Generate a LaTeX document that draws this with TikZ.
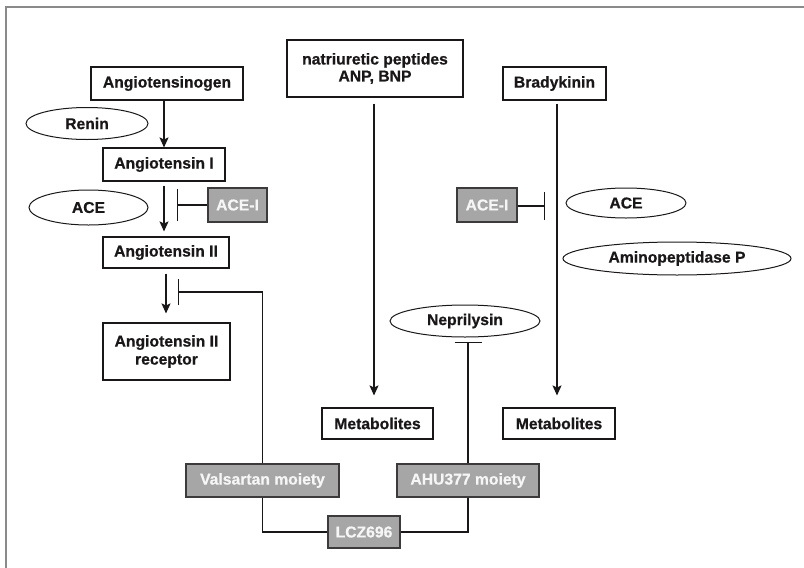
\documentclass[tikz,border=0pt]{standalone}
\usepackage{fontspec}
\setmainfont{Liberation Sans}[BoldFeatures={FakeBold=0.7}]
\usepackage{xcolor}
\usetikzlibrary{shapes.geometric,arrows.meta,positioning}
\definecolor{inkdark}{HTML}{1A1718}
\definecolor{drugfill}{HTML}{A6A6A6}
\definecolor{framegray}{HTML}{8A8A8A}

\begin{document}
\begin{tikzpicture}[
    x=1pt, y=-1pt,
    every node/.style={font=\fontsize{15.7}{17}\selectfont\bfseries, text=inkdark, inner sep=0pt},
    molbox/.style={draw=inkdark, line width=1.1pt, fill=white, align=center, minimum height=33pt},
    enzyme/.style={draw=inkdark, line width=1pt, ellipse, minimum height=32pt},
    drugbox/.style={draw=inkdark!85, line width=1.1pt, fill=drugfill, text=white!93!gray, minimum height=33pt},
    flow/.style={-{Stealth[length=10pt,width=9pt,inset=2pt]}, line width=1.1pt, draw=inkdark},
    link/.style={line width=1.1pt, draw=inkdark},
]
    \useasboundingbox (0,0) rectangle (804,568);
    \draw[framegray, line width=1.5pt] (6,568) -- (6,7) -- (804,7);

    % renin-angiotensin chain
    \node[molbox, minimum width=152pt] (agt) at (167,83.5) {Angiotensinogen};
    \node[enzyme, minimum width=122pt] (renin) at (87,123.5) {Renin};
    \node[molbox, minimum width=122pt] (ang1) at (164,164.5) {Angiotensin I};
    \node[enzyme, minimum width=119pt, minimum height=35pt] (ace1) at (88.5,207.5) {ACE};
    \node[drugbox, minimum width=59pt, minimum height=34pt] (acei1) at (237.5,205) {ACE-I};
    \node[molbox, minimum width=126pt, minimum height=31pt] (ang2) at (166,252.5) {Angiotensin II};
    \node[molbox, minimum width=127pt, minimum height=57pt, font=\fontsize{15.7}{18}\selectfont\bfseries] (at1r) at (166.5,351.5) {Angiotensin II\\receptor};

    % natriuretic peptides and bradykinin
    \node[molbox, minimum width=176pt, minimum height=57pt] (natp) at (375,68.5) {natriuretic peptides\\ANP, BNP};
    \node[molbox, minimum width=103pt] (brady) at (554.5,83.5) {Bradykinin};
    \node[drugbox, minimum width=60pt, minimum height=34pt] (acei2) at (487,205) {ACE-I};
    \node[enzyme, minimum width=120pt, minimum height=30pt] (ace2) at (626,203) {ACE};
    \node[enzyme, minimum width=228pt, minimum height=33pt] (app) at (677,258.5) {Aminopeptidase P};
    \node[enzyme, minimum width=150pt] (nep) at (465,321) {Neprilysin};
    \node[molbox, minimum width=111pt, minimum height=31pt] (met1) at (377.5,423.5) {Metabolites};
    \node[molbox, minimum width=112pt, minimum height=31pt] (met2) at (559,423.5) {Metabolites};

    % LCZ696 and its moieties
    \node[drugbox, minimum width=153pt] (vals) at (262.5,480.5) {Valsartan moiety};
    \node[drugbox, minimum width=142pt] (ahu) at (468,480.5) {AHU377 moiety};
    \node[drugbox, minimum width=72pt, minimum height=32pt] (lcz) at (364,532) {LCZ696};

    \coordinate (bar1) at (177,205);
    \coordinate (bar2) at (178,292);
    \coordinate (bar3) at (545,206);
    \coordinate (bar4) at (468,342);

    \draw[flow] (agt.south -| ang1) -- (ang1.north);
    \draw[flow, shorten <=4pt, shorten >=5pt] (ang1.south) -- (ang1.south |- ang2.north);
    \draw[flow, shorten <=5pt, shorten >=9pt] (ang2.south) -- (ang2.south |- at1r.north);
    \draw[flow, shorten <=6pt, shorten >=12pt] ([xshift=-1pt]natp.south) -- ([xshift=-1pt]natp.south |- met1.north);
    \draw[flow, shorten <=3pt, shorten >=12pt] ([xshift=2.5pt]brady.south) -- ([xshift=2.5pt]brady.south |- met2.north);

    \draw[link, -{Bar[width=32pt]}] (acei1.west) -- (bar1);
    \draw[link, -{Bar[width=26pt]}] (vals.north) |- (bar2);
    \draw[link, -{Bar[width=28pt]}] (acei2.east |- bar3) -- (bar3);
    \draw[link, -{Bar[width=27pt]}] (ahu.north) -- (bar4);

    \draw[link] (vals.south) |- (lcz.west);
    \draw[link] (ahu.south) |- (lcz.east);
\end{tikzpicture}
\end{document}
